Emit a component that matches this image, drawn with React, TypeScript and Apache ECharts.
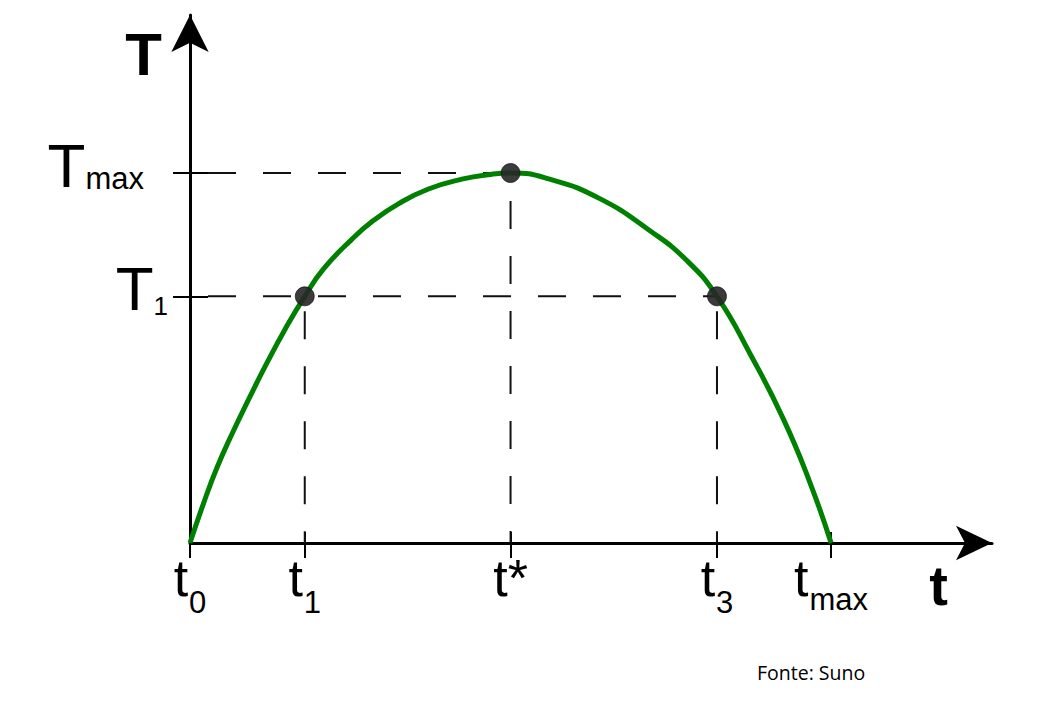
import React, { useEffect, useRef } from "react";
import * as echarts from "echarts";

// curve (time, temperature)
const curveTime = [0, 0.21, 0.42, 0.66, 0.92, 1.2, 1.49, 1.79, 2.08, 2.52, 2.85, 3.25, 3.72, 4.24, 4.71, 5.0, 5.61, 6.4, 7.18, 7.75, 8.22, 8.74, 9.26, 9.67, 10];
const curveTemp = [0, 0.32, 0.61, 0.89, 1.17, 1.46, 1.74, 2.0, 2.22, 2.46, 2.61, 2.75, 2.87, 2.95, 2.99, 3.0, 2.95, 2.79, 2.53, 2.29, 2.0, 1.53, 1.0, 0.49, 0];

// marked points
const pointTime = [1.79, 5, 8.22];
const pointTemp = [2, 3, 2];

// axis ticks and labels
const xTickValues = [0, 1.79, 5, 8.22, 10];
const xTickLabels = ["{t|t}{s|0}", "{t|t}{s|1}", "{t|t}{a|*}", "{t|t}{s|3}", "{t|t}{m|max}"];
const yTickValues = [2, 3];
const yTickLabels = ["{T|T}{o|1}", "{T|T}{x|max}"];

const X_MAX = 12.51;
const Y_MAX = 4.281;
const F = "Liberation Sans";

export default function App() {
  const ref = useRef<HTMLDivElement>(null);
  useEffect(() => {
    if (!ref.current) return;
    const chart = echarts.init(ref.current, null, { renderer: "svg" });
    const curve = curveTime.map((t, i) => [t, curveTemp[i]]);
    const pts = pointTime.map((t, i) => [t, pointTemp[i]]);
    const dash = (data: number[][], offset: number) => ({
      type: "line",
      data,
      showSymbol: false,
      silent: true,
      z: 2,
      lineStyle: { color: "#111", width: 2, type: [28, 27], dashOffset: offset },
    });
    const xLabel = (v: number) => {
      let best = 0;
      xTickValues.forEach((x, i) => {
        if (Math.abs(x - v) < Math.abs(xTickValues[best] - v)) best = i;
      });
      return xTickLabels[best];
    };
    const yLabel = (v: number) => {
      let best = 0;
      yTickValues.forEach((y, i) => {
        if (Math.abs(y - v) < Math.abs(yTickValues[best] - v)) best = i;
      });
      return yTickLabels[best];
    };
    const axisLineStyle = { color: "#000", width: 3 };
    const tok = (fontSize: number, padding: number[]) => ({
      fontFamily: F,
      fontSize,
      lineHeight: fontSize,
      color: "#000",
      padding,
    });
    chart.setOption({
      animation: false,
      backgroundColor: "#fff",
      title: {
        text: "Fonte: Suno",
        left: 757,
        top: 662,
        padding: 0,
        textStyle: { fontFamily: "Open Sans", fontSize: 19.5, fontWeight: "normal", color: "#000" },
      },
      grid: { left: 190, right: 55, top: 15, bottom: 165, outerBoundsMode: "none", containLabel: false },
      xAxis: [
        {
          type: "value",
          min: 0,
          max: X_MAX,
          position: "bottom",
          splitLine: { show: false },
          axisLine: { show: true, lineStyle: axisLineStyle, symbol: ["none", "arrow"], symbolSize: [26, 36] },
          axisTick: { show: true, customValues: xTickValues, length: 15, lineStyle: { color: "#000", width: 2 } },
          axisLabel: {
            customValues: xTickValues,
            formatter: xLabel,
            margin: 9,
            rich: {
              t: tok(52, [0, 0, 0, 0]),
              s: tok(31, [48, 0, 0, 1]),
              m: tok(31, [42, 0, 0, 1]),
              a: tok(52, [0, 0, 0, 0]),
            },
          },
          name: "t",
          nameLocation: "end",
          nameGap: 0,
          nameTextStyle: {
            fontFamily: F,
            fontSize: 56,
            fontWeight: "bold",
            color: "#000",
            align: "right",
            verticalAlign: "top",
            padding: [14, 44, 0, 0],
          },
        },
        {
          type: "value",
          min: 0,
          max: X_MAX,
          position: "bottom",
          splitLine: { show: false },
          axisLine: { show: false },
          axisTick: { show: true, inside: true, customValues: xTickValues, length: 11, lineStyle: { color: "#000", width: 2 } },
          axisLabel: { show: false },
        },
      ],
      yAxis: [
        {
          type: "value",
          min: 0,
          max: Y_MAX,
          position: "left",
          splitLine: { show: false },
          axisLine: { show: true, lineStyle: axisLineStyle, symbol: ["none", "arrow"], symbolSize: [28, 37] },
          axisTick: { show: true, customValues: yTickValues, length: 17, lineStyle: { color: "#000", width: 2 } },
          axisLabel: {
            customValues: yTickValues,
            formatter: yLabel,
            margin: 22,
            rich: {
              T: tok(62, [0, 0, 15, 0]),
              o: tok(26, [20, 0, 0, 0]),
              x: tok(31, [11, 24, 0, 0]),
            },
          },
          name: "T",
          nameLocation: "end",
          nameGap: 0,
          nameTextStyle: {
            fontFamily: F,
            fontSize: 60,
            fontWeight: "bold",
            color: "#000",
            align: "right",
            verticalAlign: "top",
            padding: [9, 28, 0, 0],
          },
        },
        {
          type: "value",
          min: 0,
          max: Y_MAX,
          position: "left",
          splitLine: { show: false },
          axisLine: { show: false },
          axisTick: { show: true, inside: true, customValues: yTickValues, length: 18, lineStyle: { color: "#000", width: 2 } },
          axisLabel: { show: false },
        },
      ],
      series: [
        dash([[0, 3], [5, 3]], 37),
        dash([[0, 2], [8.22, 2]], 37),
        dash([[5, 3], [5, 0]], 27),
        dash([[1.79, 2], [1.79, 0]], 40),
        dash([[8.22, 2], [8.22, 0]], 40),
        {
          type: "line",
          data: curve,
          smooth: 0.5,
          showSymbol: false,
          silent: true,
          z: 3,
          lineStyle: { color: "#008000", width: 5 },
        },
        {
          type: "scatter",
          data: pts,
          symbol: "circle",
          symbolSize: 19,
          silent: true,
          z: 5,
          itemStyle: { color: "rgba(38,38,38,0.9)", opacity: 1, borderColor: "rgba(20,20,20,0.7)", borderWidth: 1 },
        },
      ],
    });
    return () => chart.dispose();
  }, []);
  return (
    <div
      ref={ref}
      style={{ position: "fixed", left: 0, top: 0, width: 1047, height: 708, background: "#fff" }}
    />
  );
}
